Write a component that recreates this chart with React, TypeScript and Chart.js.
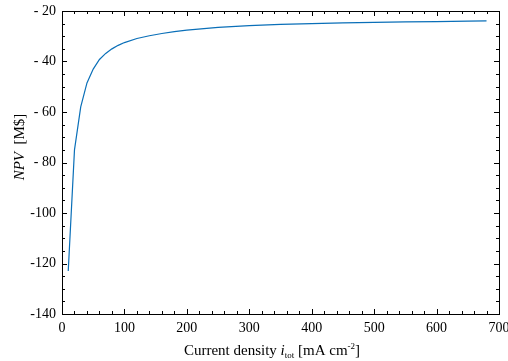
import React, { useEffect, useRef } from "react";
import { Chart, registerables } from "chart.js";

Chart.register(...registerables);

// Data
const currentDensity = [10, 20, 30, 40, 50, 60, 70, 80, 90, 100, 120, 140, 160, 180, 200, 250, 300, 350, 400, 450, 500, 550, 600, 650, 680];
const npvValues = [-123, -75, -58, -48.5, -43, -39.2, -36.8, -35, -33.6, -32.5, -30.9, -29.8, -28.9, -28.2, -27.6, -26.5, -25.8, -25.3, -25.0, -24.7, -24.5, -24.3, -24.2, -24.0, -23.9];

const xTickValues = [0, 100, 200, 300, 400, 500, 600, 700];
const xTickLabels = ["0", "100", "200", "300", "400", "500", "600", "700"];
const yTickValues = [-20, -40, -60, -80, -100, -120, -140];
const yTickLabels = ["- 20", "- 40", "- 60", "- 80", "-100", "-120", "-140"];

const FONT = "'Liberation Serif', 'Times New Roman', serif";

const framePlugin = {
  id: "frameTicksTitles",
  afterDraw(chart: any) {
    const ctx = chart.ctx as CanvasRenderingContext2D;
    const { left, right, top, bottom } = chart.chartArea;
    const xs = chart.scales.x;
    const ys = chart.scales.y;
    ctx.save();
    ctx.strokeStyle = "#000";
    ctx.lineWidth = 1;
    ctx.strokeRect(Math.round(left) + 0.5, Math.round(top) + 0.5, Math.round(right - left), Math.round(bottom - top));
    ctx.beginPath();
    for (let v = xs.min; v <= xs.max + 1e-9; v += 20) {
      const major = Math.abs(v % 100) < 1e-9;
      const len = major ? 5 : 3;
      const px = Math.round(xs.getPixelForValue(v)) + 0.5;
      ctx.moveTo(px, bottom);
      ctx.lineTo(px, bottom - len);
      ctx.moveTo(px, top);
      ctx.lineTo(px, top + len);
    }
    for (let v = ys.min; v <= ys.max + 1e-9; v += 5) {
      const major = Math.abs(v % 20) < 1e-9;
      const len = major ? 5 : 3;
      const py = Math.round(ys.getPixelForValue(v)) + 0.5;
      ctx.moveTo(left, py);
      ctx.lineTo(left + len, py);
      ctx.moveTo(right, py);
      ctx.lineTo(right - len, py);
    }
    ctx.stroke();

    // Y title
    ctx.fillStyle = "#000";
    ctx.textBaseline = "alphabetic";
    ctx.textAlign = "left";
    ctx.translate(24, 147);
    ctx.rotate(-Math.PI / 2);
    const itFont = `italic 15px ${FONT}`;
    const nFont = `15px ${FONT}`;
    ctx.font = itFont;
    const w1 = ctx.measureText("NPV").width;
    ctx.font = nFont;
    const w2 = ctx.measureText("  [M$]").width;
    const x0 = -(w1 + w2) / 2;
    ctx.font = itFont;
    ctx.fillText("NPV", x0, 0);
    ctx.font = nFont;
    ctx.fillText("  [M$]", x0 + w1, 0);
    ctx.setTransform(1, 0, 0, 1, 0, 0);

    // X title
    const parts: [string, string, number][] = [
      ["Current density ", nFont, 0],
      ["i", itFont, 0],
      ["tot", `9px ${FONT}`, 3],
      [" [mA cm", nFont, 0],
      ["-2", `9px ${FONT}`, -6],
      ["]", nFont, 0],
    ];
    let total = 0;
    const widths = parts.map(([t, f]) => {
      ctx.font = f;
      const w = ctx.measureText(t).width;
      total += w;
      return w;
    });
    let cx = 272 - total / 2;
    const base = 355;
    parts.forEach(([t, f, dy], i) => {
      ctx.font = f;
      ctx.fillText(t, cx, base + dy);
      cx += widths[i];
    });
    ctx.restore();
  },
};

export default function App() {
  const ref = useRef<HTMLCanvasElement>(null);
  useEffect(() => {
    if (!ref.current) return;
    const chart = new Chart(ref.current, {
      type: "line",
      data: {
        datasets: [
          {
            data: currentDensity.map((x, i) => ({ x, y: npvValues[i] })),
            borderColor: "#0a6fb8",
            borderWidth: 1.2,
            pointRadius: 0,
            tension: 0,
            fill: false,
          },
        ],
      },
      options: {
        responsive: false,
        animation: false,
        layout: { padding: { top: 11, right: 9, left: 0, bottom: 0 } },
        plugins: { legend: { display: false }, tooltip: { enabled: false } },
        scales: {
          x: {
            type: "linear",
            min: 0,
            max: 700,
            grid: { display: false, drawTicks: false },
            border: { display: false },
            afterBuildTicks: (s: any) => {
              s.ticks = xTickValues.map((v) => ({ value: v }));
            },
            ticks: {
              padding: 6,
              color: "#000",
              font: { family: FONT, size: 14 },
              maxRotation: 0,
              callback: (v: any) => xTickLabels[xTickValues.indexOf(Number(v))] ?? "",
            },
            afterFit: (s: any) => {
              s.height = 47;
              s.paddingLeft = 0;
              s.paddingRight = 0;
            },
          },
          y: {
            type: "linear",
            min: -140,
            max: -20,
            grid: { display: false, drawTicks: false },
            border: { display: false },
            afterBuildTicks: (s: any) => {
              s.ticks = yTickValues.map((v) => ({ value: v }));
            },
            ticks: {
              padding: 6,
              color: "#000",
              font: { family: FONT, size: 14 },
              callback: (v: any) => yTickLabels[yTickValues.indexOf(Number(v))] ?? "",
            },
            afterFit: (s: any) => {
              s.width = 62;
              s.paddingTop = 0;
              s.paddingBottom = 0;
            },
          },
        },
      },
      plugins: [framePlugin],
    });
    return () => chart.destroy();
  }, []);
  return (
    <div style={{ position: "fixed", left: 0, top: 0, width: 508, height: 361, background: "#fff" }}>
      <canvas ref={ref} width={508} height={361} style={{ display: "block" }} />
    </div>
  );
}
